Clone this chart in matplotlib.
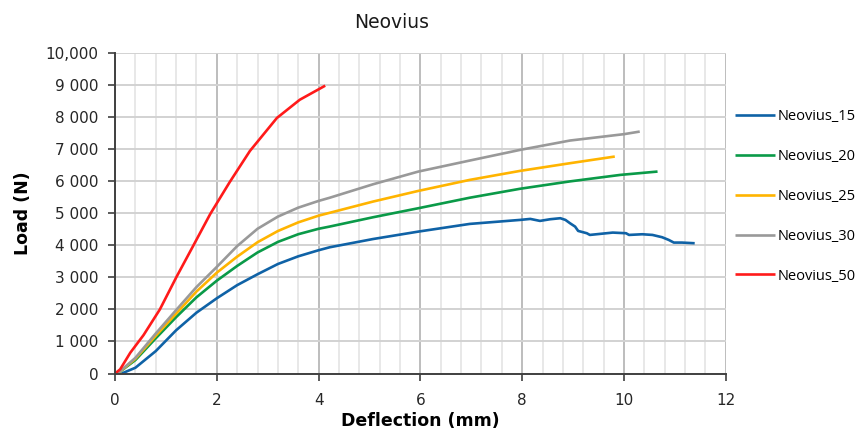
import numpy as np
import matplotlib
matplotlib.use("Agg")
import matplotlib.pyplot as plt
from matplotlib.ticker import MultipleLocator

plt.rcParams['font.family'] = ['DejaVu Sans']

# Neovius_15
x15 = [0.13, 0.4, 0.8, 1.2, 1.6, 2.0, 2.4, 2.8, 3.2, 3.6, 4.0, 4.22,
       5.07, 5.96, 6.97, 7.96, 8.16, 8.35, 8.55, 8.75, 8.85, 8.94, 9.04, 9.10, 9.27, 9.33,
       9.46, 9.78, 10.04, 10.10, 10.36, 10.56, 10.75, 10.88, 10.98, 11.14, 11.39]
y15 = [0, 180, 700, 1350, 1900, 2350, 2760, 3100, 3420, 3660, 3850, 3943,
       4200, 4432, 4672, 4797, 4828, 4766, 4818, 4850, 4797, 4693, 4588, 4453, 4381, 4328,
       4349, 4401, 4381, 4328, 4349, 4328, 4256, 4172, 4089, 4089, 4068]
# Neovius_20
x20 = [0.05, 0.4, 0.8, 1.2, 1.6, 2.0, 2.4, 2.8, 3.2, 3.6, 4.0, 4.22,
       5.07, 5.96, 6.97, 7.96, 8.94, 9.93, 10.66]
y20 = [0, 420, 1100, 1760, 2380, 2900, 3360, 3780, 4110, 4350, 4520, 4590,
       4880, 5162, 5490, 5770, 6000, 6203, 6307]
# Neovius_25
x25 = [0.05, 0.4, 0.8, 1.2, 1.6, 2.0, 2.4, 2.8, 3.2, 3.6, 4.0, 4.22,
       5.07, 5.96, 6.97, 7.96, 8.94, 9.82]
y25 = [0, 460, 1180, 1870, 2560, 3150, 3650, 4100, 4450, 4720, 4930, 5020,
       5370, 5703, 6047, 6328, 6568, 6776]
# Neovius_30
x30 = [0.05, 0.4, 0.8, 1.2, 1.6, 2.0, 2.4, 2.8, 3.2, 3.6, 4.0, 4.22,
       5.07, 5.96, 6.97, 7.96, 8.94, 10.0, 10.31]
y30 = [0, 490, 1250, 1980, 2700, 3330, 3980, 4520, 4900, 5180, 5390, 5490,
       5910, 6307, 6651, 6984, 7276, 7475, 7556]
# Neovius_50
x50 = [0, 0.1, 0.3, 0.56, 0.88, 1.21, 1.51, 1.87, 2.25, 2.65, 3.18, 3.63, 4.13]
y50 = [0, 130, 650, 1200, 2000, 3025, 3911, 4980, 5970, 6950, 7980, 8550, 8990]

names = ['Neovius_15', 'Neovius_20', 'Neovius_25', 'Neovius_30', 'Neovius_50']
colors = ['#0f62a6', '#0a9a48', '#ffb400', '#999999', '#ff1a1a']
ytick_labels = ['0', '1 000', '2 000', '3 000', '4 000', '5 000',
                '6 000', '7 000', '8 000', '9 000', '10,000']

fig = plt.figure(figsize=(8.65, 4.37), dpi=100)
ax = fig.add_axes([0.133, 0.1453, 0.706, 0.7327])

series = [(x15, y15), (x20, y20), (x25, y25), (x30, y30), (x50, y50)]
for (xs, ys), name, c in zip(series, names, colors):
    ax.plot(xs, ys, color=c, lw=1.9, label=name, solid_capstyle='butt',
            solid_joinstyle='round')

ax.set_xlim(0, 12)
ax.set_ylim(0, 10000)
ax.set_xticks(np.arange(0, 13, 2))
ax.xaxis.set_minor_locator(MultipleLocator(0.4))
ax.set_yticks(np.arange(0, 10001, 1000))
ax.set_yticklabels(ytick_labels)

ax.grid(which='minor', axis='x', color='#e4e4e4', lw=1.2)
ax.grid(which='major', axis='x', color='#bdbdbd', lw=1.4)
ax.grid(which='major', axis='y', color='#d2d2d2', lw=1.4)
ax.set_axisbelow(True)

for s in ['top', 'right']:
    ax.spines[s].set_visible(False)
for s in ['left', 'bottom']:
    ax.spines[s].set_color('#404040')
    ax.spines[s].set_linewidth(1.4)
ax.tick_params(which='major', length=5, width=1.2, color='#404040',
               labelsize=11, labelcolor='#262626')
ax.tick_params(axis='y', pad=7)
ax.tick_params(axis='x', pad=9)
ax.tick_params(which='minor', length=0)

ax.set_xlabel('Deflection (mm)', fontsize=12.5, fontweight='bold', labelpad=3)
ax.set_ylabel('Load (N)', fontsize=12.5, fontweight='bold')
ax.yaxis.set_label_coords(-0.136, 0.5)
fig.text(392 / 865, 1 - 22 / 437, 'Neovius', ha='center', va='center', fontsize=13.5,
         color='#1a1a1a')

ax.legend(loc='upper left', bbox_to_anchor=(1.0147, 0.825), frameon=False,
          borderaxespad=0, borderpad=0, handlelength=2.75, handletextpad=0.2,
          labelspacing=1.7, prop={'family': 'Open Sans', 'size': 10.5})

fig.savefig('out.png', dpi=100)
